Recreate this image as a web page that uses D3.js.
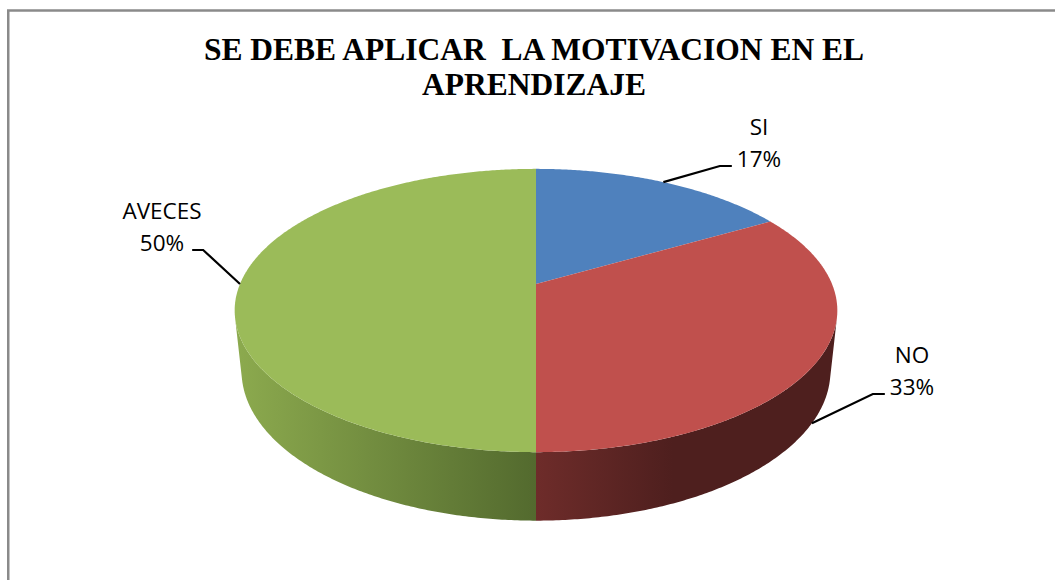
<!DOCTYPE html>
<html>
<head>
<meta charset="utf-8">
<script src="https://cdn.jsdelivr.net/npm/d3@7"></script>
<style>
  body { margin: 0; background: #fff; }
  svg { display: block; }
</style>
</head>
<body>
<div id="chart"></div>
<script>
const categories = ["SI", "NO", "AVECES"];
const values = [5, 10, 15];
const topColors = ["#4F81BD", "#C0504D", "#9BBB59"];
const sideStops = [
    [["0", "#3A5F8C"], ["1", "#2C4A6E"]],
    [["0", "#6E2C2A"], ["0.45", "#4E1F1E"], ["1", "#4E1F1E"]],
    [["0", "#8CAA4E"], ["1", "#536A2E"]]
];
const titleLines = ["SE DEBE APLICAR  LA MOTIVACION EN EL", "APRENDIZAJE"];
// where each label block sits (center x, first baseline)
const labelPos = [[759, 135], [912, 363], [162, 219]];

const width = 1055, height = 580;
const cx = 536, cy = 284, K = 296;
const alpha = 27.5 * Math.PI / 180, sa = Math.sin(alpha), ca = Math.cos(alpha);
const D = 4.74, H = 0.2325;

const x = d3.scaleLinear().domain([-1, 1]).range([cx - K, cx + K]);
const y = d3.scaleLinear().domain([-1, 1]).range([cy + K, cy - K]);

// perspective projection of a point on the pie (angle from top, clockwise)
const proj = (theta, r, h) => {
    const X = r * Math.sin(theta), Z = r * Math.cos(theta);
    const depth = D + Z * ca - h * sa;
    const v = Z * sa + h * ca;
    return [x(X * D / depth), y(v * D / depth)];
};

const svg = d3.select("#chart").append("svg")
    .attr("width", width)
    .attr("height", height);

svg.append("rect")
    .attr("x", 8.25).attr("y", 10.5)
    .attr("width", 1200).attr("height", 700)
    .attr("fill", "none")
    .attr("stroke", "#8a8a8a")
    .attr("stroke-width", 2.5);

const defs = svg.append("defs");
sideStops.forEach((stops, i) => {
    const g = defs.append("linearGradient")
        .attr("id", "side" + i)
        .attr("gradientUnits", "userSpaceOnUse")
        .attr("x1", i === 2 ? 236 : cx).attr("x2", i === 2 ? cx : 840)
        .attr("y1", 0).attr("y2", 0);
    stops.forEach(s => g.append("stop").attr("offset", s[0]).attr("stop-color", s[1]));
});

const arcs = d3.pie().sort(null)(values);
const line = d3.line();
const step = Math.PI / 360;

// visible part of the outer wall
const wallMin = Math.acos(-1 / (D * ca)) , wallMax = 2 * Math.PI - wallMin;

const pie = svg.append("g");

arcs.forEach((a, i) => {
    const s = Math.max(a.startAngle, wallMin), e = Math.min(a.endAngle, wallMax);
    if (e <= s) return;
    const ang = d3.range(s, e, step).concat([e]);
    const pts = ang.map(t => proj(t, 1, 0))
        .concat(ang.slice().reverse().map(t => proj(t, 1, -H)));
    pie.append("path")
        .attr("d", line(pts) + "Z")
        .attr("fill", `url(#side${i})`);
});

arcs.forEach((a, i) => {
    const ang = d3.range(a.startAngle, a.endAngle, step).concat([a.endAngle]);
    const pts = [proj(0, 0, 0)].concat(ang.map(t => proj(t, 1, 0)));
    pie.append("path")
        .attr("d", line(pts) + "Z")
        .attr("fill", topColors[i]);
});

// title
svg.append("g").selectAll("text")
    .data(titleLines)
    .join("text")
    .attr("x", 534)
    .attr("y", (d, i) => 60 + i * 35)
    .attr("text-anchor", "middle")
    .attr("font-family", "'Liberation Serif', 'Times New Roman', serif")
    .attr("font-weight", "bold")
    .attr("font-size", 31.5)
    .style("white-space", "pre")
    .text(d => d);

// data labels with leaders
const total = d3.sum(values);
const pct = d3.format(".0%");
arcs.forEach((a, i) => {
    const mid = (a.startAngle + a.endAngle) / 2;
    const front = Math.cos(mid) < -1 / (D * ca);
    const anchor = proj(mid, 1, front ? -H : 0);
    const [lx, ly] = labelPos[i];
    const g = svg.append("g")
        .attr("font-family", "'Open Sans', sans-serif")
        .attr("font-size", 22.5)
        .attr("fill", "#000")
        .attr("text-anchor", "middle");
    g.append("text").attr("x", lx).attr("y", ly).text(categories[i]);
    const t2 = g.append("text").attr("x", lx).attr("y", ly + 32).text(pct(values[i] / total));
    const bb = t2.node().getBBox();
    const ry = ly + 31;
    let pts;
    if (anchor[0] < lx) {
        const end = bb.x - 5;
        pts = [anchor, [end - 12, ry], [end, ry]];
    } else {
        const st = bb.x + bb.width + 8;
        pts = [anchor, [st + 11, ry], [st, ry]];
    }
    svg.append("path")
        .attr("d", line(pts))
        .attr("fill", "none")
        .attr("stroke", "#000")
        .attr("stroke-width", 2.2);
});
</script>
</body>
</html>
